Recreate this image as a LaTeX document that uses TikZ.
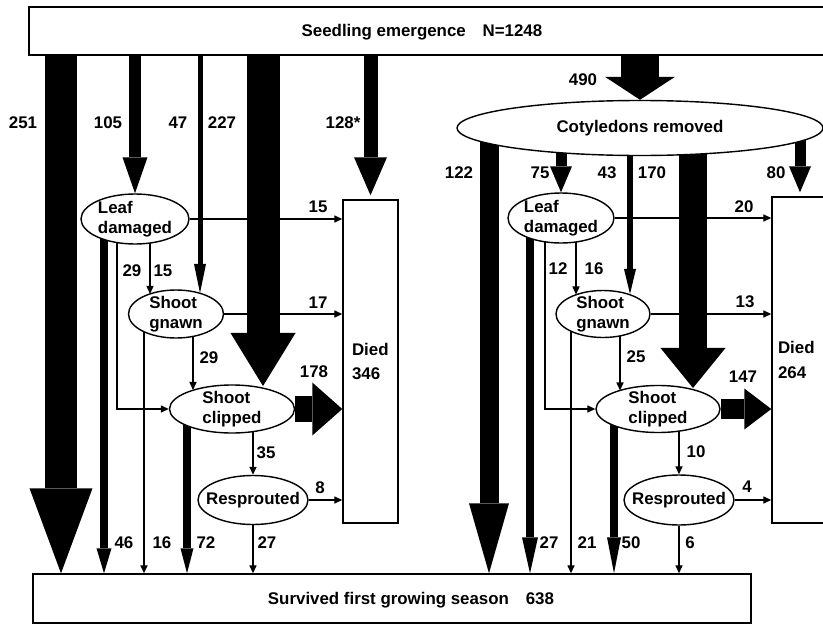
\documentclass[tikz,border=0pt]{standalone}
\usepackage{fontspec}
\setmainfont{Liberation Sans}
\usepackage{tikz}
\usetikzlibrary{arrows.meta, shapes.geometric, backgrounds, calc}
\newdimen\pxu
\pxu=0.025cm
\newcommand\figfont{\bfseries\fontsize{12}{14.5}\selectfont}
\tikzset{
  basebox/.style={rectangle, draw=black, line width=1pt, fill=white, inner sep=0pt},
  stagebox/.style={ellipse, draw=black, line width=1pt, fill=white, align=left, inner sep=-20pt, font=\figfont},
  diedbox/.style={basebox, align=left, font=\figfont},
  lab/.style={inner sep=0pt, font=\figfont},
  link/.style={line width=1pt, -{Triangle[length=5.7pt, width=5pt]}},
  flow/.style n args={3}{line width=#1\pxu,
    /utils/exec={\pgfmathsetlengthmacro\flowwid{#2*0.7113pt}\pgfmathsetlengthmacro\flowlen{#3*0.7113pt}},
    -{Triangle[length=\flowlen, width=\flowwid, line width=0pt]}}
}

\begin{document}
\begin{tikzpicture}[x=0.025cm, y=-0.025cm]
  \useasboundingbox (0,0) rectangle (823,625);

  \node[basebox, minimum width=811\pxu, minimum height=48\pxu] (seed) at (434.5,31) {};
  \node[lab] (seedtxt) at (422,32) {Seedling emergence\quad N=1248};
  \node[basebox, minimum width=718\pxu, minimum height=49\pxu] (surv) at (392,598.5) {};
  \node[lab] (survtxt) at (411,600) {Survived first growing season\quad 638};

  \node[diedbox, minimum width=55\pxu, minimum height=323\pxu, text width=37\pxu] (diedL) at (370.5,361.5) {Died\\[3pt]346};
  \node[diedbox, minimum width=68\pxu, minimum height=326\pxu, text width=56\pxu] (diedR) at (806,360) {Died\\[3pt]264};

  \node[stagebox, minimum width=108\pxu, minimum height=50\pxu] (leafL) at (135,219) {Leaf\\damaged};
  \node[stagebox, minimum width=95\pxu, minimum height=48\pxu] (gnawL) at (176,314) {Shoot\\gnawn};
  \node[stagebox, minimum width=125\pxu, minimum height=48\pxu] (clipL) at (232,409) {Shoot\\clipped};
  \node[stagebox, minimum width=110\pxu, minimum height=49\pxu] (respL) at (253,500) {Resprouted};

  \node[stagebox, minimum width=366\pxu, minimum height=55\pxu] (cotyl) at (640,128) {Cotyledons removed};
  \node[stagebox, minimum width=106\pxu, minimum height=50\pxu] (leafR) at (561,218) {Leaf\\damaged};
  \node[stagebox, minimum width=94\pxu, minimum height=47\pxu] (gnawR) at (603,314) {Shoot\\gnawn};
  \node[stagebox, minimum width=124\pxu, minimum height=47\pxu] (clipR) at (658,409) {Shoot\\clipped};
  \node[stagebox, minimum width=110\pxu, minimum height=50\pxu] (respR) at (679,500) {Resprouted};

  \foreach \txt/\x/\y [count=\i] in {251/23/123, 105/108/123, 47/178/123, 227/222/123,
      128*/343/123, 490/583/80, 122/459/173, 75/540/173, 43/607/173, 170/652/173, 80/776/173,
      15/318/207, 29/132/271, 15/163/271, 17/318/303, 29/209/358, 178/314/372, 35/266/453,
      8/320/488, 46/124/543, 16/162/543, 72/206/543, 27/267/543,
      20/744/207, 12/558/269, 16/594/269, 13/745/302, 25/636/357, 147/743/377, 10/696/452,
      4/747/487, 27/549/543, 21/587/543, 50/631/543, 6/690/543}
    \node[lab] (lab\i) at (\x,\y) {\txt};

  \begin{scope}[on background layer]
    \draw[flow={32}{63}{85}] (61,0 |- seed.south) -- (61,0 |- surv.north);
    \draw[flow={12}{25}{36}] (leafL.north |- seed.south) -- (leafL.north);
    \draw[flow={5}{12}{29}] (200,0 |- seed.south) -- ($(gnawL)+(24,-21)$);
    \draw[flow={33}{65}{53}] (263,0 |- seed.south) -- ($(clipL)+(31,-23)$);
    \draw[flow={14}{33}{38}] (diedL.north |- seed.south) -- ($(diedL.north)+(0,-4)$);

    \draw[flow={8}{15}{25}] (104,0 |- leafL) -- (104,0 |- surv.north);
    \draw[link] (117,0 |- leafL) |- (clipL.west);
    \draw[link] (150,0 |- leafL) -- ($(gnawL)+(-26,-20)$);
    \draw[link] (leafL) -- (leafL -| diedL.west);
    \draw[link] (144,0 |- gnawL) -- (144,0 |- surv.north);
    \draw[link] (193,0 |- gnawL) -- ($(clipL)+(-39,-19)$);
    \draw[link] (gnawL) -- (gnawL -| diedL.west);
    \draw[flow={8}{13}{25}] (187,0 |- clipL) -- (187,0 |- surv.north);
    \draw[link] (respL.north |- clipL) -- (respL.north);
    \draw[flow={26}{53}{30}] (clipL) -- (clipL -| diedL.west);
    \draw[link] (respL) -- (respL |- surv.north);
    \draw[link] (respL) -- (respL -| diedL.west);

    \draw[flow={38}{70}{23}] (cotyl.north |- seed.south) -- (cotyl.north);
    \draw[flow={19}{40}{70}] (489,0 |- cotyl) -- (489,0 |- surv.north);
    \draw[flow={11}{22}{26}] (leafR.north |- cotyl) -- (leafR.north);
    \draw[flow={6}{12}{25}] (630,0 |- cotyl) -- ($(gnawR)+(27,-20)$);
    \draw[flow={28}{65}{40}] (693,0 |- cotyl) -- ($(clipR)+(35,-21)$);
    \draw[flow={11}{22}{26}] (800,0 |- cotyl) -- ($(800,0 |- diedR.north)+(0,-4)$);

    \draw[flow={8}{16}{36}] (530,0 |- leafR) -- (530,0 |- surv.north);
    \draw[link] (545,0 |- leafR) |- (clipR.west);
    \draw[link] (576,0 |- leafR) -- ($(gnawR)+(-27,-19.5)$);
    \draw[link] (leafR) -- (leafR -| diedR.west);
    \draw[link] (571,0 |- gnawR) -- (571,0 |- surv.north);
    \draw[link] (620,0 |- gnawR) -- ($(clipR)+(-38,-18.5)$);
    \draw[link] (gnawR) -- (gnawR -| diedR.west);
    \draw[flow={8}{14}{36}] (614,0 |- clipR) -- (614,0 |- surv.north);
    \draw[link] (respR.north |- clipR) -- (respR.north);
    \draw[flow={20}{41}{27}] (clipR) -- (clipR -| diedR.west);
    \draw[link] (respR) -- (respR |- surv.north);
    \draw[link] (respR) -- (respR -| diedR.west);
  \end{scope}
\end{tikzpicture}
\end{document}
